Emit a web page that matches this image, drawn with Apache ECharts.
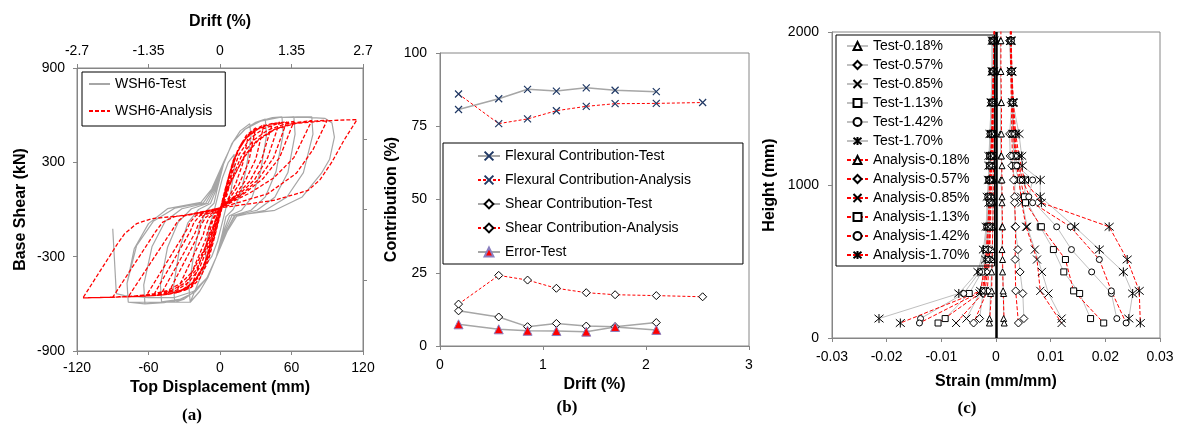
<!DOCTYPE html>
<html>
<head>
<meta charset="utf-8">
<script src="https://cdn.jsdelivr.net/npm/echarts@6/dist/echarts.min.js"></script>
<style>
html,body{margin:0;padding:0;background:#fff;}
#chart{width:1181px;height:427px;}
</style>
</head>
<body>
<div id="chart"></div>
<script>
// ---------- Panel (a): hysteresis (top displacement mm, base shear kN) ----------
const tLoop12 = [[-12,-350],[-12,-250],[-9,-110],[-5,-10],[-2,80],[2,200],[7,300],[12,350],[12,250],[9,110],[5,10],[2,-80],[-2,-200],[-7,-300],[-12,-350]];
const tLoop25 = [[-25,-590],[-26,-500],[-22,-280],[-17,-100],[-11,-5],[-5,40],[-2,140],[3,290],[10,420],[17,500],[25,545],[26,460],[22,260],[17,90],[11,0],[5,-45],[2,-150],[-3,-300],[-10,-430],[-17,-520],[-25,-590]];
const tLoop38 = [[-38,-590],[-39,-490],[-34,-250],[-27,-85],[-18,0],[-8,38],[-3,130],[3,300],[11,430],[20,505],[30,555],[38,575],[39,470],[34,240],[27,80],[18,-5],[8,-40],[3,-140],[-3,-300],[-11,-435],[-21,-520],[-30,-570],[-38,-590]];
const tLoop52 = [[-49,-590],[-50,-480],[-44,-240],[-35,-80],[-24,5],[-10,40],[-4,130],[3,300],[11,430],[21,510],[32,560],[44,585],[52,590],[53,480],[47,240],[38,80],[26,-5],[10,-40],[4,-140],[-3,-300],[-11,-435],[-21,-525],[-33,-570],[-49,-590]];
const tLoop62 = [[-63,-600],[-64,-480],[-57,-235],[-46,-75],[-32,5],[-12,40],[-5,130],[3,300],[11,430],[21,510],[33,560],[47,585],[62,590],[63,480],[57,235],[46,78],[31,-5],[12,-40],[5,-140],[-3,-300],[-11,-435],[-21,-525],[-33,-572],[-47,-592],[-63,-600]];
const tLoop77 = [[-77,-590],[-78,-470],[-70,-230],[-56,-75],[-38,8],[-14,42],[-6,130],[3,300],[11,430],[21,510],[34,562],[50,585],[65,590],[77,590],[78,480],[70,235],[56,78],[38,-5],[14,-42],[6,-140],[-3,-300],[-11,-435],[-21,-525],[-34,-572],[-52,-590],[-77,-590]];
const tLoopFinal = [[-77,-590],[-78,-470],[-72,-250],[-60,-90],[-44,5],[-16,45],[-7,130],[3,300],[11,430],[21,510],[34,562],[50,585],[70,588],[88,580],[94,550],[96,460],[92,320],[85,229],[69,80],[46,-5],[13,-37],[5,-140],[-3,-300],[-11,-435],[-22,-520],[-38,-560],[-60,-560],[-80,-548],[-87,-535],[-90,-122]];

const aLoop12 = [[-12,-330],[-7,-205],[0,-10],[7,200],[12,330],[9,190],[6,95],[3,40],[0,5],[-2,-30],[-4,-80],[-6,-140],[-8,-200],[-12,-330]];
const aLoop24 = [[-24,-490],[-14,-368],[-7,-205],[0,-10],[7,200],[14,360],[24,480],[19,290],[13,160],[7,70],[0,8],[-3,-30],[-6,-70],[-8,-120],[-10,-190],[-24,-490]];
const aLoop30 = [[-30,-515],[-24,-495],[-17,-440],[-10,-330],[-4,-160],[2,20],[8,230],[15,380],[22,470],[30,520],[24,300],[16,160],[8,70],[0,12],[-4,-30],[-7,-70],[-10,-130],[-12,-190],[-30,-515]];
const aLoop37 = [[-37,-530],[-30,-508],[-22,-462],[-14,-368],[-7,-205],[0,-10],[7,200],[14,360],[22,455],[30,510],[37,540],[30,320],[21,180],[12,85],[0,10],[-5,-25],[-9,-50],[-12,-100],[-14,-160],[-37,-530]];
const aLoop44 = [[-44,-540],[-36,-525],[-27,-495],[-19,-440],[-11,-330],[-4,-150],[3,60],[10,270],[18,420],[27,495],[36,530],[44,548],[35,320],[25,180],[13,85],[0,12],[-7,-25],[-12,-50],[-16,-100],[-18,-160],[-44,-540]];
const aLoop50 = [[-50,-545],[-42,-535],[-32,-512],[-22,-462],[-14,-368],[-7,-205],[0,-10],[7,200],[14,360],[22,455],[32,512],[42,540],[50,555],[40,330],[29,190],[16,95],[0,10],[-8,-20],[-14,-40],[-18,-90],[-21,-150],[-50,-545]];
const aLoop56 = [[-56,-548],[-45,-540],[-35,-522],[-26,-488],[-18,-420],[-10,-290],[-3,-100],[4,120],[11,310],[19,430],[28,500],[40,540],[56,558],[45,330],[32,190],[18,95],[0,10],[-10,-22],[-17,-40],[-22,-85],[-25,-140],[-56,-548]];
const aLoop62 = [[-62,-550],[-50,-545],[-40,-532],[-30,-505],[-21,-455],[-13,-360],[-6,-200],[1,0],[8,190],[16,350],[25,450],[36,512],[48,545],[62,560],[50,330],[36,195],[20,100],[0,10],[-12,-20],[-20,-37],[-25,-80],[-28,-130],[-62,-550]];
const aLoop77 = [[-77,-555],[-62,-550],[-48,-538],[-36,-512],[-26,-462],[-17,-370],[-9,-215],[-1,-20],[9,180],[18,340],[28,440],[40,505],[55,545],[77,565],[62,330],[45,200],[25,105],[0,10],[-16,-22],[-30,-40],[-36,-80],[-40,-130],[-77,-555]];
const aLoop90 = [[-90,-558],[-72,-552],[-56,-542],[-42,-520],[-30,-470],[-20,-385],[-11,-230],[-2,-30],[9,170],[20,335],[31,440],[44,505],[60,545],[75,560],[90,568],[78,380],[64,230],[40,100],[0,10],[-20,-25],[-38,-45],[-48,-80],[-54,-140],[-90,-558]];
const aLoop115 = [[-115,-562],[-95,-559],[-75,-553],[-58,-540],[-44,-515],[-33,-470],[-23,-395],[-13,-250],[-3,-50],[8,160],[20,330],[32,440],[46,510],[64,548],[85,562],[100,568],[115,572],[104,440],[94,303],[84,190],[74,122],[46,59],[0,10],[-29,-37],[-57,-58],[-70,-90],[-80,-154],[-86,-218],[-115,-562]];

const shearTicksA = [-900, -300, 300, 900];
const driftTicksA = [-2.7, -1.35, 0, 1.35, 2.7];
const rightTicksA = [-450, 0, 450];

// ---------- Panel (b): contributions ----------
const driftTest = [0.18, 0.57, 0.85, 1.13, 1.42, 1.70, 2.10];
const driftAnalysis = [0.18, 0.57, 0.85, 1.13, 1.42, 1.70, 2.10, 2.55];
const flexTest = [80.7, 84.4, 87.6, 87.0, 88.1, 87.3, 86.8];
const flexAnalysis = [86.0, 75.9, 77.5, 80.3, 81.8, 82.7, 82.8, 83.1];
const shearTest = [12.0, 9.9, 6.6, 7.7, 6.8, 6.6, 8.0];
const shearAnalysis = [14.3, 24.1, 22.5, 19.7, 18.2, 17.5, 17.2, 16.8];
const errorTest = [7.4, 5.7, 5.2, 5.1, 4.9, 6.5, 5.5];

// ---------- Panel (c): strain profiles ----------
const testHeights = [1943, 1742, 1539, 1334, 1190, 1126, 1033, 923, 727, 578, 432, 291, 127];
const anaHeights = [2050, 1943, 1742, 1539, 1334, 1190, 1033, 884, 727, 513, 308, 98];

const T018R = [0.0008,0.0008,0.0009,0.0008,0.0009,0.0011,0.0009,0.0011,0.0011,0.0011,0.0012,0.0014,0.0014];
const T057R = [0.0025,0.0027,0.0029,0.0025,0.0026,0.0029,0.0035,0.0034,0.0035,0.0040,0.0044,0.0049,0.0051];
const T085R = [0.0026,0.0028,0.0030,0.0030,0.0033,0.0034,0.0042,0.0046,0.0057,0.0071,0.0084,0.0096,0.0120];
const T113R = [0.0027,0.0028,0.0030,0.0031,0.0034,0.0036,0.0054,0.0052,0.0081,0.0105,0.0124,0.0153,0.0173];
const T142R = [0.0027,0.0029,0.0031,0.0032,0.0037,0.0038,0.0067,0.0060,0.0111,0.0138,0.0175,0.0211,0.0221];
const T170R = [0.0027,0.0029,0.0031,0.0042,0.0047,0.0048,0.0081,0.0081,0.0144,0.0189,0.0233,0.0250,0.0243];
const T018L = [-0.0004,-0.0004,-0.0005,-0.0005,-0.0005,-0.0005,-0.0006,-0.0006,-0.0006,-0.0007,-0.0008,-0.0010,-0.0012];
const T057L = [-0.0006,-0.0006,-0.0007,-0.0009,-0.0009,-0.0010,-0.0011,-0.0011,-0.0012,-0.0014,-0.0018,-0.0024,-0.0030];
const T085L = [-0.0006,-0.0007,-0.0008,-0.0010,-0.0010,-0.0011,-0.0012,-0.0013,-0.0014,-0.0017,-0.0022,-0.0030,-0.0054];
const T113L = [-0.0007,-0.0007,-0.0008,-0.0010,-0.0011,-0.0012,-0.0013,-0.0014,-0.0016,-0.0019,-0.0026,-0.0049,-0.0093];
const T142L = [-0.0007,-0.0007,-0.0009,-0.0011,-0.0012,-0.0012,-0.0013,-0.0015,-0.0017,-0.0021,-0.0030,-0.0059,-0.0138];
const T170L = [-0.0007,-0.0007,-0.0009,-0.0011,-0.0013,-0.0013,-0.0014,-0.0016,-0.0018,-0.0023,-0.0033,-0.0068,-0.0214];

const A018R = [0.0009,0.0009,0.0009,0.0010,0.0010,0.0010,0.0011,0.0011,0.0012,0.0012,0.0013,0.0015];
const A057R = [0.0026,0.0026,0.0027,0.0028,0.0029,0.0030,0.0032,0.0034,0.0036,0.0035,0.0036,0.0041];
const A085R = [0.0027,0.0027,0.0028,0.0030,0.0032,0.0035,0.0042,0.0047,0.0055,0.0075,0.0081,0.0120];
const A113R = [0.0027,0.0027,0.0028,0.0030,0.0033,0.0037,0.0045,0.0054,0.0083,0.0127,0.0142,0.0197];
const A142R = [0.0028,0.0028,0.0029,0.0031,0.0034,0.0039,0.0048,0.0067,0.0136,0.0189,0.0211,0.0238];
const A170R = [0.0028,0.0028,0.0029,0.0032,0.0036,0.0042,0.0052,0.0083,0.0207,0.0240,0.0262,0.0264];
const A018L = [-0.0002,-0.0002,-0.0003,-0.0003,-0.0004,-0.0004,-0.0005,-0.0005,-0.0006,-0.0007,-0.0008,-0.0012];
const A057L = [-0.0003,-0.0003,-0.0004,-0.0005,-0.0006,-0.0007,-0.0008,-0.0009,-0.0010,-0.0012,-0.0016,-0.0041];
const A085L = [-0.0003,-0.0003,-0.0004,-0.0005,-0.0006,-0.0007,-0.0009,-0.0010,-0.0011,-0.0013,-0.0020,-0.0073];
const A113L = [-0.0003,-0.0003,-0.0004,-0.0006,-0.0007,-0.0008,-0.0010,-0.0011,-0.0012,-0.0015,-0.0023,-0.0106];
const A142L = [-0.0003,-0.0004,-0.0005,-0.0006,-0.0007,-0.0009,-0.0011,-0.0012,-0.0014,-0.0017,-0.0025,-0.0140];
const A170L = [-0.0003,-0.0004,-0.0005,-0.0007,-0.0008,-0.0010,-0.0012,-0.0013,-0.0015,-0.0019,-0.0028,-0.0175];

const strainLabels = ['0.18%','0.57%','0.85%','1.13%','1.42%','1.70%'];

// ---------- build ----------
const FONT = "'Liberation Sans', Arial, sans-serif";
const AXC = '#868686';
const SYM_X = 'path://M0,0L10,10M10,0L0,10';
const SYM_AST = 'path://M0,0L10,10M10,0L0,10M5,-1L5,11';

function zip(xs, ys){ return xs.map((x,i)=>[x, ys[i]]); }
function profile(h, right, left){
  return right.map((s,i)=>[s,h[i]]).concat([['-','-']]).concat(left.map((s,i)=>[s,h[i]]));
}

const testHyst = [].concat(tLoop12, tLoop25, tLoop38, tLoop52, tLoop62, tLoop77, tLoopFinal);
const anaHyst = [].concat(aLoop12, aLoop24, aLoop30, aLoop37, aLoop44, aLoop50, aLoop56, aLoop62, aLoop77, aLoop90, aLoop115);

function axisCommon(o){
  return Object.assign({
    type:'value',
    axisLine:{show:true, onZero:false, lineStyle:{color:AXC, width:1}},
    axisTick:{show:true, length:4, lineStyle:{color:AXC}},
    axisLabel:{fontSize:14, color:'#000', fontFamily:FONT},
    splitLine:{show:false},
    nameLocation:'middle',
    nameTextStyle:{fontSize:16, fontWeight:'bold', color:'#000', fontFamily:FONT}
  }, o);
}

const profSymbols = ['triangle','diamond',SYM_X,'rect','circle',SYM_AST];
const profSizes = [6,8,8,6,6,9];
const testR = [T018R,T057R,T085R,T113R,T142R,T170R];
const testL = [T018L,T057L,T085L,T113L,T142L,T170L];
const anaR = [A018R,A057R,A085R,A113R,A142R,A170R];
const anaL = [A018L,A057L,A085L,A113L,A142L,A170L];

const profSeries = [];
strainLabels.forEach((lab,i)=>{
  profSeries.push({
    name:'Test-'+lab, type:'line', xAxisIndex:3, yAxisIndex:3,
    data: profile(testHeights, testR[i], testL[i]),
    symbol: profSymbols[i], symbolSize: profSizes[i],
    lineStyle:{color:'#BFBFBF', width:1},
    itemStyle:{color:'#fff', borderColor:'#000', borderWidth:1}
  });
});
strainLabels.forEach((lab,i)=>{
  profSeries.push({
    name:'Analysis-'+lab, type:'line', xAxisIndex:3, yAxisIndex:3,
    data: profile(anaHeights, anaR[i], anaL[i]),
    symbol: profSymbols[i], symbolSize: profSizes[i],
    lineStyle:{color:'#FF0000', width:1, type:[4,2]},
    itemStyle:{color:'#fff', borderColor:'#000', borderWidth:1}
  });
});
profSeries[profSeries.length-1].markLine = {
  silent:true, symbol:'none', label:{show:false},
  lineStyle:{color:'#000', width:2.5, type:'solid'},
  data:[{xAxis:0}]
};

const option = {
  animation:false,
  backgroundColor:'#fff',
  textStyle:{fontFamily:FONT},
  grid:[
    {left:77, top:68, width:286, height:283, show:true, borderColor:AXC, borderWidth:1},
    {left:440, top:53, width:309, height:293, show:true, borderColor:AXC, borderWidth:1},
    {left:832, top:32, width:328, height:306, show:true, borderColor:AXC, borderWidth:1}
  ],
  xAxis:[
    axisCommon({gridIndex:0, min:-120, max:120, interval:60, position:'bottom',
      name:'Top Displacement (mm)', nameGap:29,
      axisLabel:{fontSize:14, color:'#000', fontFamily:FONT, margin:10}}),
    axisCommon({gridIndex:0, min:-2.7, max:2.7, position:'top',
      name:'Drift (%)', nameGap:38,
      axisLabel:{fontSize:14, color:'#000', fontFamily:FONT, margin:10, customValues:driftTicksA},
      axisTick:{show:true, length:4, lineStyle:{color:AXC}, customValues:driftTicksA}}),
    axisCommon({gridIndex:1, min:0, max:3, interval:1, position:'bottom',
      name:'Drift (%)', nameGap:28,
      axisLabel:{fontSize:14, color:'#000', fontFamily:FONT, margin:12}}),
    axisCommon({gridIndex:2, min:-0.03, max:0.03, interval:0.01, position:'bottom',
      name:'Strain (mm/mm)', nameGap:36,
      axisLabel:{fontSize:14, color:'#000', fontFamily:FONT, margin:12}})
  ],
  yAxis:[
    axisCommon({gridIndex:0, min:-900, max:900, position:'left',
      name:'Base Shear (kN)', nameGap:48,
      axisLabel:{fontSize:14, color:'#000', fontFamily:FONT, margin:12, customValues:shearTicksA},
      axisTick:{show:true, length:4, lineStyle:{color:AXC}, customValues:shearTicksA}}),
    axisCommon({gridIndex:0, min:-900, max:900, position:'right',
      axisLabel:{show:false, customValues:rightTicksA},
      axisTick:{show:true, length:4, lineStyle:{color:AXC}, customValues:rightTicksA}}),
    axisCommon({gridIndex:1, min:0, max:100, interval:25, position:'left',
      name:'Contribution (%)', nameGap:40,
      axisLabel:{fontSize:14, color:'#000', fontFamily:FONT, margin:13}}),
    axisCommon({gridIndex:2, min:0, max:2000, interval:1000, position:'left',
      name:'Height (mm)', nameGap:54,
      axisLabel:{fontSize:14, color:'#000', fontFamily:FONT, margin:13, formatter:(v)=>String(v)}})
  ],
  legend:[
    {data:['WSH6-Test','WSH6-Analysis'], orient:'vertical', left:82, top:72,
     itemWidth:21, itemHeight:14, itemGap:13, padding:[5,13,8,6],
     borderColor:'#000', borderWidth:1, selectedMode:false,
     itemStyle:{opacity:0},
     textStyle:{fontSize:14, color:'#000', fontFamily:FONT}},
    {data:['Flexural Contribution-Test','Flexural Contribution-Analysis','Shear Contribution-Test','Shear Contribution-Analysis','Error-Test'],
     orient:'vertical', left:443, top:143,
     itemWidth:22, itemHeight:11, itemGap:10, padding:[6,52,5,34],
     borderColor:'#000', borderWidth:1, selectedMode:false,
     textStyle:{fontSize:14, color:'#000', fontFamily:FONT}},
    {data: strainLabels.map(l=>'Test-'+l).concat(strainLabels.map(l=>'Analysis-'+l)),
     orient:'vertical', left:836, top:35,
     itemWidth:21, itemHeight:10, itemGap:5, padding:[4,25,4,10],
     borderColor:'#000', borderWidth:1, selectedMode:false,
     textStyle:{fontSize:14, color:'#000', fontFamily:FONT}}
  ],
  graphic:[
    {type:'text', x:192, y:416, style:{text:'(a)', font:'bold 17px "Liberation Serif", serif', align:'center', verticalAlign:'middle', fill:'#000'}},
    {type:'text', x:567, y:408, style:{text:'(b)', font:'bold 17px "Liberation Serif", serif', align:'center', verticalAlign:'middle', fill:'#000'}},
    {type:'text', x:967, y:409, style:{text:'(c)', font:'bold 17px "Liberation Serif", serif', align:'center', verticalAlign:'middle', fill:'#000'}}
  ],
  series:[
    {name:'WSH6-Test', type:'line', xAxisIndex:0, yAxisIndex:0, data:testHyst, symbol:'none',
     lineStyle:{color:'#A6A6A6', width:1.2}, itemStyle:{color:'#A6A6A6'}},
    {name:'WSH6-Analysis', type:'line', xAxisIndex:0, yAxisIndex:0, data:anaHyst, symbol:'none',
     lineStyle:{color:'#FF0000', width:1.3, type:[4,2]}, itemStyle:{color:'#FF0000'}},

    {name:'Flexural Contribution-Test', type:'line', xAxisIndex:2, yAxisIndex:2, data:zip(driftTest, flexTest),
     symbol:SYM_X, symbolSize:7, lineStyle:{color:'#A6A6A6', width:1.5},
     itemStyle:{color:'#1F3864', borderColor:'#1F3864', borderWidth:1.2}},
    {name:'Flexural Contribution-Analysis', type:'line', xAxisIndex:2, yAxisIndex:2, data:zip(driftAnalysis, flexAnalysis),
     symbol:SYM_X, symbolSize:7, lineStyle:{color:'#FF0000', width:1, type:[3,2]},
     itemStyle:{color:'#1F3864', borderColor:'#1F3864', borderWidth:1.2}},
    {name:'Shear Contribution-Test', type:'line', xAxisIndex:2, yAxisIndex:2, data:zip(driftTest, shearTest),
     symbol:'diamond', symbolSize:8, lineStyle:{color:'#A6A6A6', width:1.5},
     itemStyle:{color:'#fff', borderColor:'#000', borderWidth:1}},
    {name:'Shear Contribution-Analysis', type:'line', xAxisIndex:2, yAxisIndex:2, data:zip(driftAnalysis, shearAnalysis),
     symbol:'diamond', symbolSize:8, lineStyle:{color:'#FF0000', width:1, type:[3,2]},
     itemStyle:{color:'#fff', borderColor:'#000', borderWidth:1}},
    {name:'Error-Test', type:'line', xAxisIndex:2, yAxisIndex:2, data:zip(driftTest, errorTest),
     symbol:'triangle', symbolSize:9, lineStyle:{color:'#A6A6A6', width:1.5},
     itemStyle:{color:'#FF0000', borderColor:'#8A7FC0', borderWidth:1}}
  ].concat(profSeries)
};

const chart = echarts.init(document.getElementById('chart'), null, {renderer:'canvas'});
chart.setOption(option);
</script>
</body>
</html>
